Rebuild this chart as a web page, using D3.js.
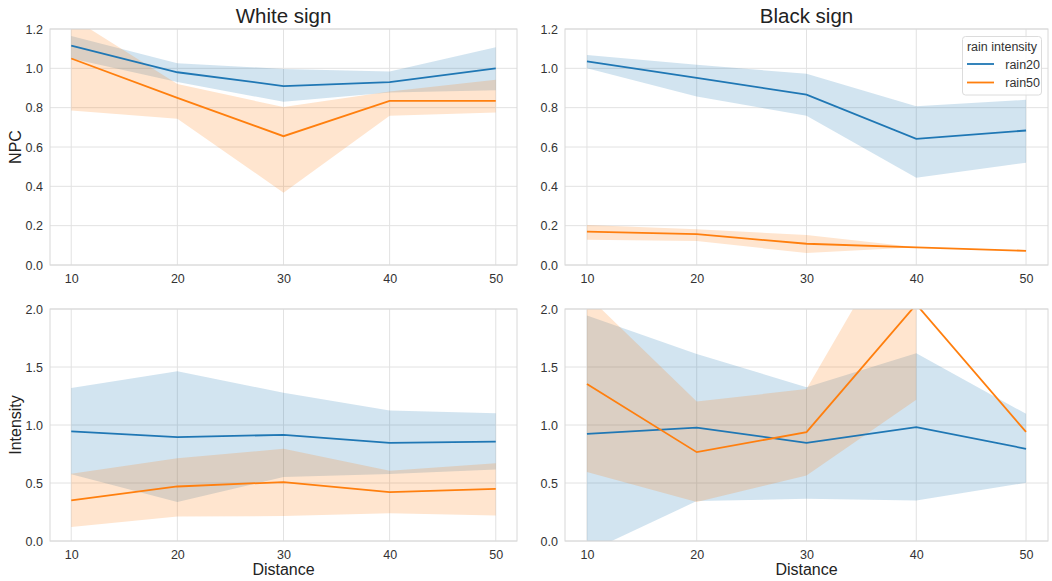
<!DOCTYPE html>
<html>
<head>
<meta charset="utf-8">
<script src="https://cdn.jsdelivr.net/npm/d3@7"></script>
<style>
  body { margin: 0; background: #fff; }
  svg { font-family: "Liberation Sans", Arial, sans-serif; }
</style>
</head>
<body>
<svg width="1052" height="581"></svg>
<script>
const distances = [10, 20, 30, 40, 50];
const seriesNames = ["rain20", "rain50"];
const colors = ["#1f77b4", "#ff7f0e"];
const signs = ["White sign", "Black sign"];
const npcTicks = [0, 0.2, 0.4, 0.6, 0.8, 1.0, 1.2];
const intensityTicks = [0, 0.5, 1.0, 1.5, 2.0];

// White sign, NPC
const whiteNpc20 = [1.115, 0.98, 0.91, 0.93, 1.0];
const whiteNpc20Lo = [1.05, 0.93, 0.83, 0.877, 0.888];
const whiteNpc20Hi = [1.165, 1.026, 0.997, 0.984, 1.107];
const whiteNpc50 = [1.05, 0.85, 0.655, 0.835, 0.835];
const whiteNpc50Lo = [0.785, 0.744, 0.368, 0.759, 0.776];
const whiteNpc50Hi = [1.26, 0.92, 0.803, 0.882, 0.942];

// Black sign, NPC
const blackNpc20 = [1.035, 0.952, 0.866, 0.641, 0.684];
const blackNpc20Lo = [1.0, 0.857, 0.759, 0.444, 0.52];
const blackNpc20Hi = [1.068, 1.018, 0.972, 0.807, 0.84];
const blackNpc50 = [0.17, 0.157, 0.108, 0.09, 0.072];
const blackNpc50Lo = [0.128, 0.122, 0.061, 0.09, 0.072];
const blackNpc50Hi = [0.204, 0.182, 0.152, 0.09, 0.072];

// White sign, Intensity
const whiteInt20 = [0.945, 0.895, 0.915, 0.846, 0.856];
const whiteInt20Lo = [0.575, 0.336, 0.551, 0.578, 0.617];
const whiteInt20Hi = [1.318, 1.463, 1.277, 1.125, 1.102];
const whiteInt50 = [0.35, 0.47, 0.508, 0.422, 0.45];
const whiteInt50Lo = [0.12, 0.212, 0.215, 0.24, 0.22];
const whiteInt50Hi = [0.58, 0.714, 0.795, 0.605, 0.67];

// Black sign, Intensity
const blackInt20 = [0.924, 0.978, 0.846, 0.981, 0.795];
const blackInt20Lo = [-0.1, 0.344, 0.364, 0.35, 0.502];
const blackInt20Hi = [1.943, 1.613, 1.326, 1.618, 1.096];
const blackInt50 = [1.354, 0.766, 0.938, 2.04, 0.94];
const blackInt50Lo = [0.594, 0.336, 0.565, 1.217, null];
const blackInt50Hi = [2.12, 1.202, 1.31, 2.94, null];

const svg = d3.select("svg");

const panels = [
  {left: 50, right: 517, top: 29, bottom: 265, ticks: npcTicks, title: signs[0], ylabel: "NPC",
   mean: [whiteNpc20, whiteNpc50], lo: [whiteNpc20Lo, whiteNpc50Lo], hi: [whiteNpc20Hi, whiteNpc50Hi]},
  {left: 565, right: 1048, top: 29, bottom: 265, ticks: npcTicks, title: signs[1], legend: true,
   mean: [blackNpc20, blackNpc50], lo: [blackNpc20Lo, blackNpc50Lo], hi: [blackNpc20Hi, blackNpc50Hi]},
  {left: 50, right: 517, top: 309, bottom: 541, ticks: intensityTicks, ylabel: "Intensity", xlabel: "Distance",
   mean: [whiteInt20, whiteInt50], lo: [whiteInt20Lo, whiteInt50Lo], hi: [whiteInt20Hi, whiteInt50Hi]},
  {left: 565, right: 1048, top: 309, bottom: 541, ticks: intensityTicks, xlabel: "Distance",
   mean: [blackInt20, blackInt50], lo: [blackInt20Lo, blackInt50Lo], hi: [blackInt20Hi, blackInt50Hi]}
];

panels.forEach((p, i) => {
  const x = d3.scaleLinear().domain([8, 52]).range([p.left, p.right]);
  const y = d3.scaleLinear().domain([0, d3.max(p.ticks)]).range([p.bottom, p.top]);
  const g = svg.append("g");

  // сетка
  g.selectAll(".gx").data(distances).join("line")
    .attr("x1", d => x(d)).attr("x2", d => x(d))
    .attr("y1", p.top).attr("y2", p.bottom)
    .attr("stroke", "#e2e2e2").attr("stroke-width", 1);
  g.selectAll(".gy").data(p.ticks).join("line")
    .attr("x1", p.left).attr("x2", p.right)
    .attr("y1", d => y(d)).attr("y2", d => y(d))
    .attr("stroke", "#e2e2e2").attr("stroke-width", 1);

  const clipId = "clip" + i;
  svg.append("clipPath").attr("id", clipId).append("rect")
    .attr("x", p.left).attr("y", p.top)
    .attr("width", p.right - p.left).attr("height", p.bottom - p.top);

  const plot = g.append("g").attr("clip-path", `url(#${clipId})`);

  seriesNames.forEach((s, k) => {
    const band = distances.map((d, j) => ({x: d, lo: p.lo[k][j], hi: p.hi[k][j]}));
    const area = d3.area()
      .defined(d => d.lo != null && d.hi != null)
      .x(d => x(d.x)).y0(d => y(d.lo)).y1(d => y(d.hi));
    plot.append("path").attr("d", area(band))
      .attr("fill", colors[k]).attr("fill-opacity", 0.2);
  });
  seriesNames.forEach((s, k) => {
    const line = d3.line().x(d => x(d[0])).y(d => y(d[1]));
    plot.append("path").attr("d", line(distances.map((d, j) => [d, p.mean[k][j]])))
      .attr("fill", "none").attr("stroke", colors[k]).attr("stroke-width", 1.8);
  });

  // рамка
  g.append("rect").attr("x", p.left).attr("y", p.top)
    .attr("width", p.right - p.left).attr("height", p.bottom - p.top)
    .attr("fill", "none").attr("stroke", "#d8d8d8").attr("stroke-width", 1);

  // подписи делений
  const xAxis = d3.axisBottom(x).tickValues(distances).tickSize(0).tickPadding(9);
  const yAxis = d3.axisLeft(y).tickValues(p.ticks).tickSize(0).tickPadding(7).tickFormat(d3.format(".1f"));
  [g.append("g").attr("transform", `translate(0,${p.bottom})`).call(xAxis),
   g.append("g").attr("transform", `translate(${p.left},0)`).call(yAxis)].forEach(a => {
    a.select(".domain").remove();
    a.selectAll("text").attr("fill", "#333").attr("font-size", 12.5)
      .attr("font-family", "Liberation Sans, Arial, sans-serif");
  });

  if (p.title) {
    svg.append("text").attr("x", (p.left + p.right) / 2).attr("y", 23)
      .attr("text-anchor", "middle").attr("font-size", 20.5).attr("fill", "#222").text(p.title);
  }
  if (p.ylabel) {
    svg.append("text")
      .attr("transform", `translate(21,${(p.top + p.bottom) / 2}) rotate(-90)`)
      .attr("text-anchor", "middle").attr("font-size", 16).attr("fill", "#222").text(p.ylabel);
  }
  if (p.xlabel) {
    svg.append("text").attr("x", (p.left + p.right) / 2).attr("y", 575)
      .attr("text-anchor", "middle").attr("font-size", 16).attr("fill", "#222").text(p.xlabel);
  }

  if (p.legend) {
    const lg = svg.append("g");
    lg.append("rect").attr("x", 962.5).attr("y", 36.5).attr("width", 79).attr("height", 58.5)
      .attr("rx", 3).attr("fill", "#fff").attr("fill-opacity", 0.85)
      .attr("stroke", "#dcdcdc");
    lg.append("text").attr("x", 1002).attr("y", 50.5).attr("text-anchor", "middle")
      .attr("font-size", 12.5).attr("fill", "#333").text("rain intensity");
    seriesNames.forEach((s, k) => {
      const yy = 64 + k * 18.5;
      lg.append("line").attr("x1", 967).attr("x2", 994).attr("y1", yy).attr("y2", yy)
        .attr("stroke", colors[k]).attr("stroke-width", 1.8);
      lg.append("text").attr("x", 1040).attr("y", yy + 4.5).attr("text-anchor", "end")
        .attr("font-size", 12.5).attr("fill", "#333").text(s);
    });
  }
});
</script>
</body>
</html>
